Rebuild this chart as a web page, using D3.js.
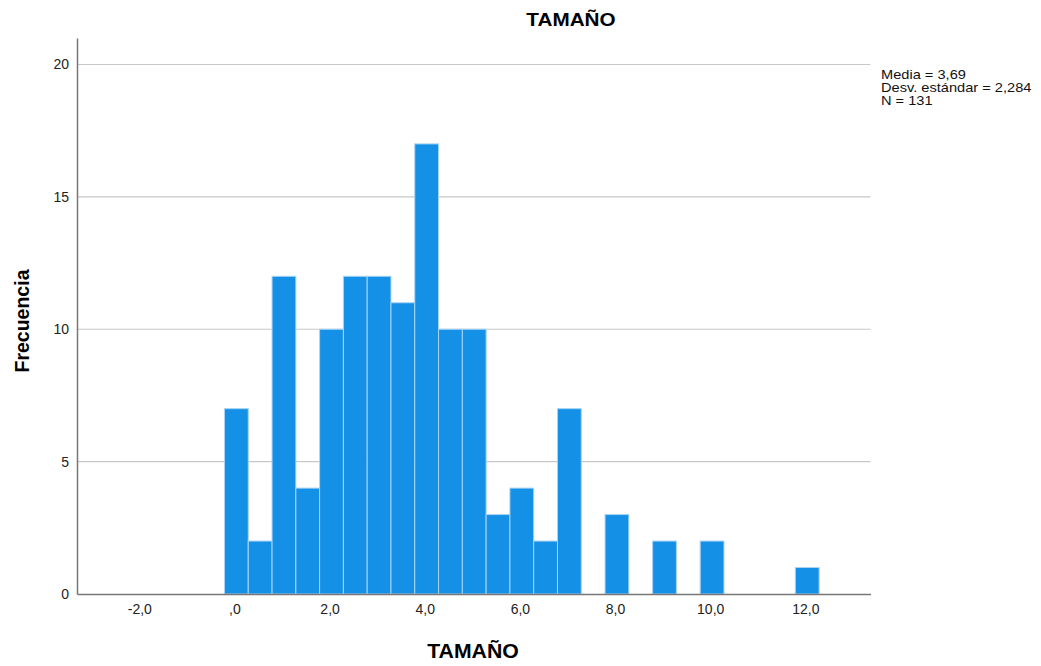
<!DOCTYPE html>
<html>
<head>
<meta charset="utf-8">
<script src="https://cdn.jsdelivr.net/npm/d3@7"></script>
<style>
  body { margin: 0; background: #fff; }
  svg { font-family: "Liberation Sans", Arial, sans-serif; }
</style>
</head>
<body>
<svg width="1041" height="666"></svg>
<script>
// histogram data (bin width 0.5)
var binStart = -0.21;
var binWidth = 0.5;
var counts = [7, 2, 12, 4, 10, 12, 12, 11, 17, 10, 10, 3, 4, 2, 7, 0, 3, 0, 2, 0, 2, 0, 0, 0, 1];
var xTicks = [-2, 0, 2, 4, 6, 8, 10, 12];
var yTicks = [0, 5, 10, 15, 20];
var statsLines = ["Media = 3,69", "Desv. estándar = 2,284", "N = 131"];

var svg = d3.select("svg");

// scales
var x = d3.scaleLinear().domain([-3.31, 13.37]).range([77, 870.5]);
var y = d3.scaleLinear().domain([0, 21]).range([594, 38]);

// gridlines
svg.append("g")
  .selectAll("line")
  .data(yTicks.filter(d => d > 0))
  .enter().append("line")
  .attr("x1", x.range()[0]).attr("x2", x.range()[1])
  .attr("y1", d => y(d)).attr("y2", d => y(d))
  .attr("stroke", "#c8c8c8")
  .attr("stroke-width", 1.2);

// bars
var bins = counts.map((c, i) => ({x0: binStart + i * binWidth, x1: binStart + (i + 1) * binWidth, n: c}));
svg.append("g")
  .selectAll("rect")
  .data(bins.filter(d => d.n > 0))
  .enter().append("rect")
  .attr("x", d => x(d.x0))
  .attr("y", d => y(d.n))
  .attr("width", d => x(d.x1) - x(d.x0))
  .attr("height", d => y(0) - y(d.n))
  .attr("fill", "#1490e6")
  .attr("stroke", "#a9d4f5")
  .attr("stroke-width", 1);

// y axis
var yAxis = svg.append("g")
  .attr("transform", "translate(" + x.range()[0] + ",0)")
  .call(d3.axisLeft(y).tickValues(yTicks).tickSize(0).tickPadding(8).tickFormat(d => d));
yAxis.select(".domain").attr("stroke", "#777").attr("stroke-width", 1.5);
yAxis.selectAll("text").attr("font-size", 14).attr("fill", "#222")
  .attr("font-family", "Liberation Sans, Arial, sans-serif");

// x axis ("," as decimal mark, plain hyphen for minus)
var fmt = d => d === 0 ? ",0" : d3.format(".1f")(d).replace(".", ",").replace("\u2212", "-");
var xAxis = svg.append("g")
  .attr("transform", "translate(0," + y(0) + ")")
  .call(d3.axisBottom(x).tickValues(xTicks).tickSize(0).tickPadding(10).tickFormat(fmt));
xAxis.select(".domain").attr("stroke", "#777").attr("stroke-width", 1.5);
xAxis.selectAll("text").attr("font-size", 14).attr("fill", "#222")
  .attr("font-family", "Liberation Sans, Arial, sans-serif");

// titles (text in the source is a bit wider than the font, so stretch it)
svg.append("text")
  .attr("transform", "translate(571,26) scale(1.09,1)")
  .attr("text-anchor", "middle")
  .attr("font-size", 19).attr("font-weight", "bold")
  .text("TAMAÑO");

svg.append("text")
  .attr("transform", "translate(473,658) scale(1.09,1)")
  .attr("text-anchor", "middle")
  .attr("font-size", 19.5).attr("font-weight", "bold")
  .text("TAMAÑO");

svg.append("text")
  .attr("transform", "translate(29,321) rotate(-90)")
  .attr("text-anchor", "middle")
  .attr("font-size", 19.5).attr("font-weight", "bold")
  .text("Frecuencia");

// stats box
svg.append("g")
  .attr("transform", "translate(881,0) scale(1.17,1)")
  .selectAll("text")
  .data(statsLines)
  .enter().append("text")
  .attr("x", 0)
  .attr("y", (d, i) => 79 + i * 13)
  .attr("font-size", 12.5)
  .attr("fill", "#111")
  .text(d => d);
</script>
</body>
</html>
